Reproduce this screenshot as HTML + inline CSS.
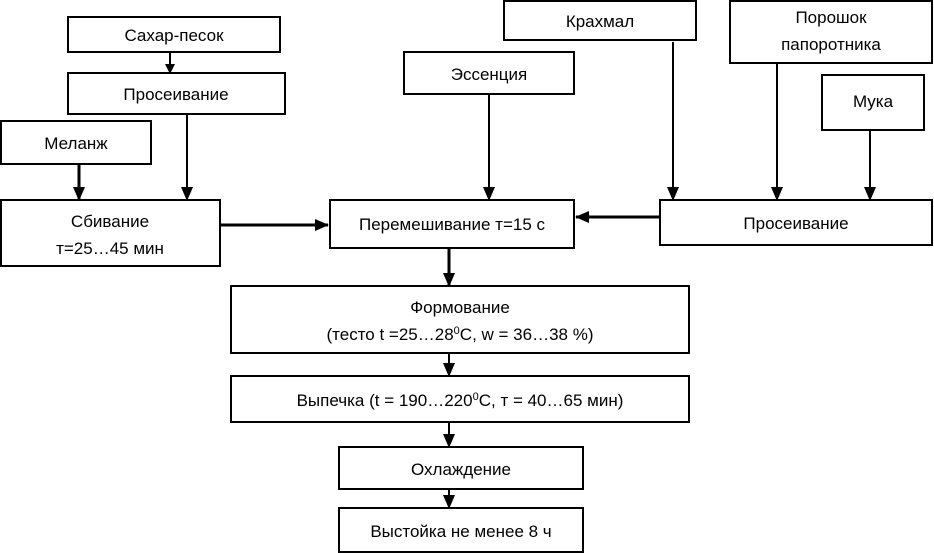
<!DOCTYPE html>
<html><head><meta charset="utf-8"><style>
html,body{margin:0;padding:0;background:#fff;}
svg{display:block;}
text{font-family:"Liberation Sans",sans-serif;font-size:17px;fill:#000;text-anchor:middle;}
rect{fill:#fff;stroke:#000;stroke-width:2;}
line{stroke:#000;stroke-width:2;}
.t{stroke-width:3;}
</style></head><body>
<svg width="934" height="553" viewBox="0 0 934 553">
<defs>
<marker id="a" markerWidth="10" markerHeight="10" refX="9" refY="5" orient="auto" markerUnits="userSpaceOnUse">
<path d="M0,0 L10,5 L0,10 z" fill="#000"/>
</marker>
<marker id="b" markerWidth="14" markerHeight="12" refX="13" refY="6" orient="auto" markerUnits="userSpaceOnUse">
<path d="M0,0 L14,6 L0,12 z" fill="#000"/>
</marker>
</defs>
<!-- connectors -->
<line x1="170" y1="52" x2="170" y2="73" marker-end="url(#a)"/>
<line class="t" x1="79" y1="164" x2="79" y2="200" marker-end="url(#b)"/>
<line x1="187" y1="114" x2="187" y2="200" marker-end="url(#b)"/>
<line class="t" x1="220" y1="225" x2="328" y2="225" marker-end="url(#b)"/>
<line x1="489" y1="94" x2="489" y2="200" marker-end="url(#b)"/>
<line x1="673" y1="42" x2="673" y2="200" marker-end="url(#b)"/>
<line x1="777" y1="63" x2="777" y2="200" marker-end="url(#b)"/>
<line x1="870" y1="130" x2="870" y2="200" marker-end="url(#b)"/>
<line class="t" x1="660" y1="217" x2="576" y2="217" marker-end="url(#b)"/>
<line class="t" x1="449" y1="248" x2="449" y2="286" marker-end="url(#b)"/>
<line x1="449" y1="353" x2="449" y2="376" marker-end="url(#b)"/>
<line x1="449" y1="422" x2="449" y2="447" marker-end="url(#b)"/>
<line x1="449" y1="489" x2="449" y2="508" marker-end="url(#b)"/>
<!-- boxes -->
<rect x="68" y="17" width="212" height="35"/><text x="174" y="41">Сахар-песок</text>
<rect x="68" y="73" width="217" height="41"/><text x="176" y="100">Просеивание</text>
<rect x="1" y="121" width="150" height="43"/><text x="76" y="149">Меланж</text>
<rect x="1" y="200" width="219" height="66"/><text x="110" y="227">Сбивание</text><text x="110" y="254">т=25…45 мин</text>
<rect x="404" y="52" width="170" height="42"/><text x="489" y="80">Эссенция</text>
<rect x="504" y="1" width="192" height="39"/><text x="600" y="27">Крахмал</text>
<rect x="730" y="1" width="202" height="62"/><text x="831" y="23">Порошок</text><text x="831" y="50">папоротника</text>
<rect x="822" y="75" width="102" height="55"/><text x="873" y="107">Мука</text>
<rect x="330" y="200" width="244" height="48"/><text x="452" y="230">Перемешивание т=15 с</text>
<rect x="660" y="200" width="272" height="45"/><text x="796" y="229">Просеивание</text>
<rect x="231" y="286" width="458" height="67"/><text x="460" y="313">Формование</text><text x="460" y="340">(тесто t =25…28<tspan font-size="11" dy="-6">0</tspan><tspan dy="6">С, w = 36…38 %)</tspan></text>
<rect x="231" y="376" width="458" height="46"/><text x="460" y="406">Выпечка (t = 190…220<tspan font-size="11" dy="-6">0</tspan><tspan dy="6">С, т = 40…65 мин)</tspan></text>
<rect x="339" y="447" width="244" height="42"/><text x="461" y="475">Охлаждение</text>
<rect x="339" y="508" width="244" height="44"/><text x="461" y="537">Выстойка не менее 8 ч</text>
</svg>
</body></html>
